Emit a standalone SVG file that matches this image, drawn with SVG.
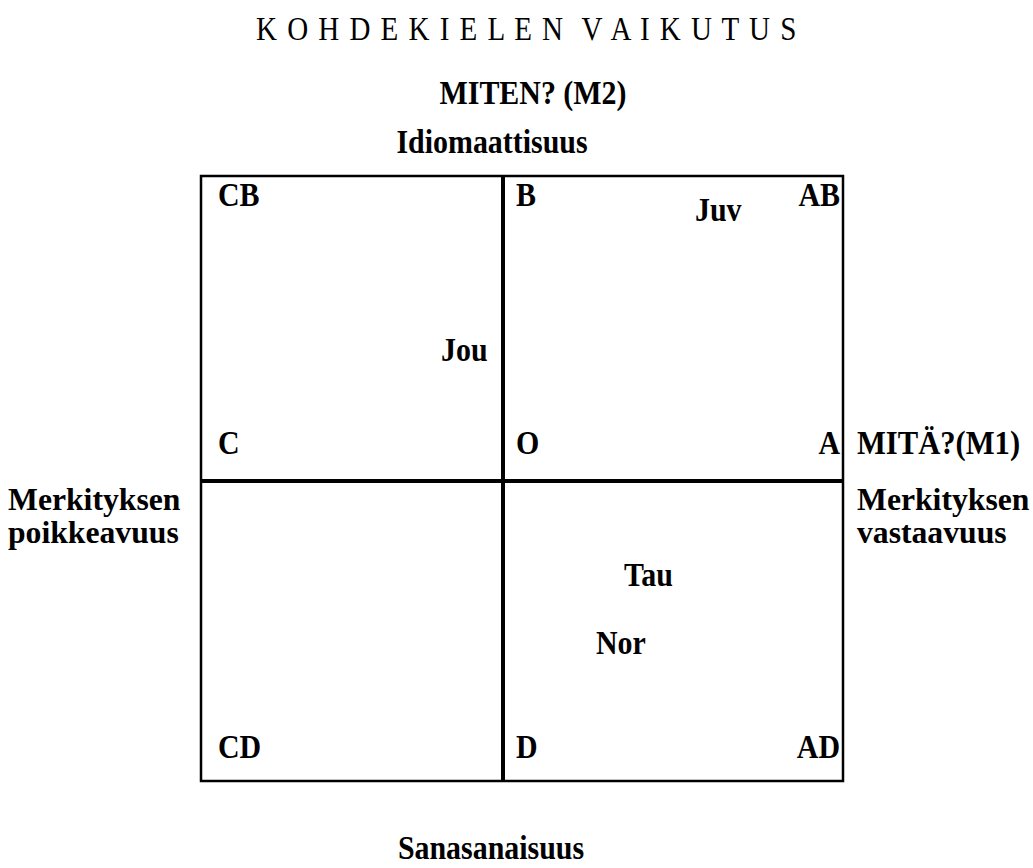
<svg xmlns="http://www.w3.org/2000/svg" width="1033" height="868" viewBox="0 0 1033 868">
<style>
text{font-family:"Liberation Serif","Times New Roman",serif;fill:#000}
.b{font-weight:bold;font-size:34px}
.s{font-weight:bold;font-size:32px}
.t{font-size:33px}
.o{fill:none;stroke:#000;stroke-width:2.5}
.m{stroke:#000;stroke-width:4}
</style>
<rect width="1033" height="868" fill="#fff"/>
<g id="title">
<text class="t" xml:space="preserve" transform="translate(256,40) scale(0.88,1)" textLength="614" lengthAdjust="spacing">K O H D E K I E L E N  V A I K U T U S</text>
<text class="b" transform="translate(533,104) scale(0.88,1)" text-anchor="middle">MITEN? (M2)</text>
<text class="b" transform="translate(492,153) scale(0.88,1)" text-anchor="middle">Idiomaattisuus</text>
</g>
<g id="grid">
<rect class="o" x="201" y="176" width="642" height="605"/>
<line class="m" x1="503" y1="176" x2="503" y2="781"/>
<line class="m" x1="201" y1="481" x2="843" y2="481"/>
</g>
<g id="corner-labels">
<text class="b" transform="translate(218,206) scale(0.88,1)">CB</text>
<text class="b" transform="translate(516,206) scale(0.88,1)">B</text>
<text class="b" transform="translate(840,206) scale(0.88,1)" text-anchor="end">AB</text>
<text class="b" transform="translate(218,454) scale(0.88,1)">C</text>
<text class="b" transform="translate(516,454) scale(0.88,1)">O</text>
<text class="b" transform="translate(840,454) scale(0.88,1)" text-anchor="end">A</text>
<text class="b" transform="translate(218,758) scale(0.88,1)">CD</text>
<text class="b" transform="translate(516,758) scale(0.88,1)">D</text>
<text class="b" transform="translate(840,758) scale(0.88,1)" text-anchor="end">AD</text>
</g>
<g id="points">
<text class="b" transform="translate(695,221) scale(0.88,1)">Juv</text>
<text class="b" transform="translate(441,361) scale(0.88,1)">Jou</text>
<text class="b" transform="translate(624,586) scale(0.88,1)">Tau</text>
<text class="b" transform="translate(596,654) scale(0.88,1)">Nor</text>
</g>
<g id="axis-labels">
<text class="b" transform="translate(857,454) scale(0.9,1)">MITÄ?(M1)</text>
<text class="s" transform="translate(8,510) scale(0.99,1)">Merkityksen</text>
<text class="s" transform="translate(8,543) scale(0.99,1)">poikkeavuus</text>
<text class="s" transform="translate(857,510) scale(0.99,1)">Merkityksen</text>
<text class="s" transform="translate(857,543) scale(0.99,1)">vastaavuus</text>
<text class="b" transform="translate(491,859) scale(0.88,1)" text-anchor="middle">Sanasanaisuus</text>
</g>
</svg>
